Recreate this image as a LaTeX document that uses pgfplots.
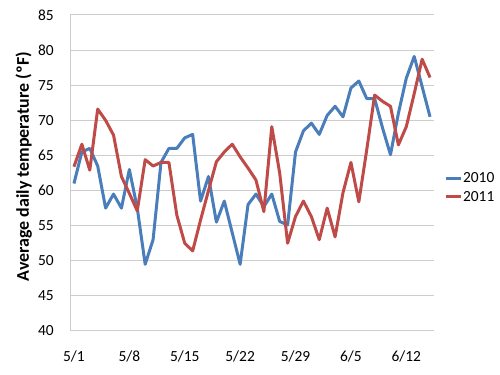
\documentclass[border=0pt]{standalone}
\usepackage{pgfplots}
\pgfplotsset{compat=1.18}
\usepackage{fontspec}
\setmainfont{Carlito}
\definecolor{blueS}{RGB}{74,126,187}
\definecolor{redS}{RGB}{190,75,72}
\definecolor{gridc}{RGB}{205,205,205}
\begin{document}
\begin{tikzpicture}
\useasboundingbox (0,0) rectangle (500bp,375bp);
\begin{axis}[
  at={(70bp,44bp)}, anchor=south west,
  width=364bp, height=316bp, scale only axis,
  xmin=-0.5, xmax=45.5, ymin=40, ymax=85,
  xtick={0,7,14,21,28,35,42},
  xticklabels={5/1,5/8,5/15,5/22,5/29,6/5,6/12},
  ytick={40,45,...,85},
  axis x line*=bottom, axis y line*=left,
  axis line style={draw=gridc, line width=1bp, -},
  ymajorgrids, grid style={draw=gridc, line width=1bp},
  major tick length=0pt,
  tick label style={font=\fontsize{15.5}{18}\selectfont, text=black},
  /pgf/number format/assume math mode=true,
  yticklabel style={inner sep=0pt, xshift=-16bp},
  xticklabel style={inner sep=0pt, yshift=-20bp},
  ylabel={\bfseries Average daily temperature (ºF)},
  every axis y label/.style={at={(axis description cs:-0.127,0.52)}, rotate=90, anchor=center, font=\fontsize{18}{21}\selectfont},
  legend style={at={(1.027,0.454)}, anchor=west, draw=none, fill=none, inner sep=0pt,
    font=\fontsize{15.5}{18}\selectfont, row sep=5bp,
    nodes={inner sep=1bp}},
  legend cell align=left,
  legend image code/.code={\draw[#1, line width=3bp] (0bp,0bp) -- (15bp,0bp);},
]
\addplot[blueS, line width=3bp, line join=round] coordinates {
(0,61) (1,65.5) (2,66) (3,63.5) (4,57.5) (5,59.5) (6,57.5) (7,63) (8,57.5) (9,49.5)
(10,53) (11,64) (12,66) (13,66) (14,67.5) (15,68) (16,58.5) (17,62) (18,55.5) (19,58.5)
(20,54) (21,49.5) (22,58) (23,59.5) (24,57.7) (25,59.5) (26,55.6) (27,55.1) (28,65.5) (29,68.5)
(30,69.6) (31,68) (32,70.7) (33,72) (34,70.5) (35,74.6) (36,75.6) (37,73.1) (38,73.1) (39,68.9)
(40,65.1) (41,71) (42,76) (43,79.1) (44,74.8) (45,70.5)};
\addlegendentry{2010}
\addplot[redS, line width=3bp, line join=round] coordinates {
(0,63.4) (1,66.6) (2,62.9) (3,71.6) (4,70) (5,67.9) (6,62) (7,59.6) (8,57.1) (9,64.4)
(10,63.5) (11,64) (12,64) (13,56.5) (14,52.5) (15,51.4) (16,55.8) (17,60) (18,64.1) (19,65.5)
(20,66.6) (21,64.8) (22,63.2) (23,61.5) (24,57) (25,69.1) (26,62.5) (27,52.5) (28,56.3) (29,58.5)
(30,56.3) (31,53) (32,57.5) (33,53.4) (34,59.7) (35,64) (36,58.4) (37,65.8) (38,73.6) (39,72.7)
(40,72) (41,66.5) (42,69.1) (43,73.8) (44,78.7) (45,76.1)};
\addlegendentry{2011}
\end{axis}
\end{tikzpicture}
\end{document}
